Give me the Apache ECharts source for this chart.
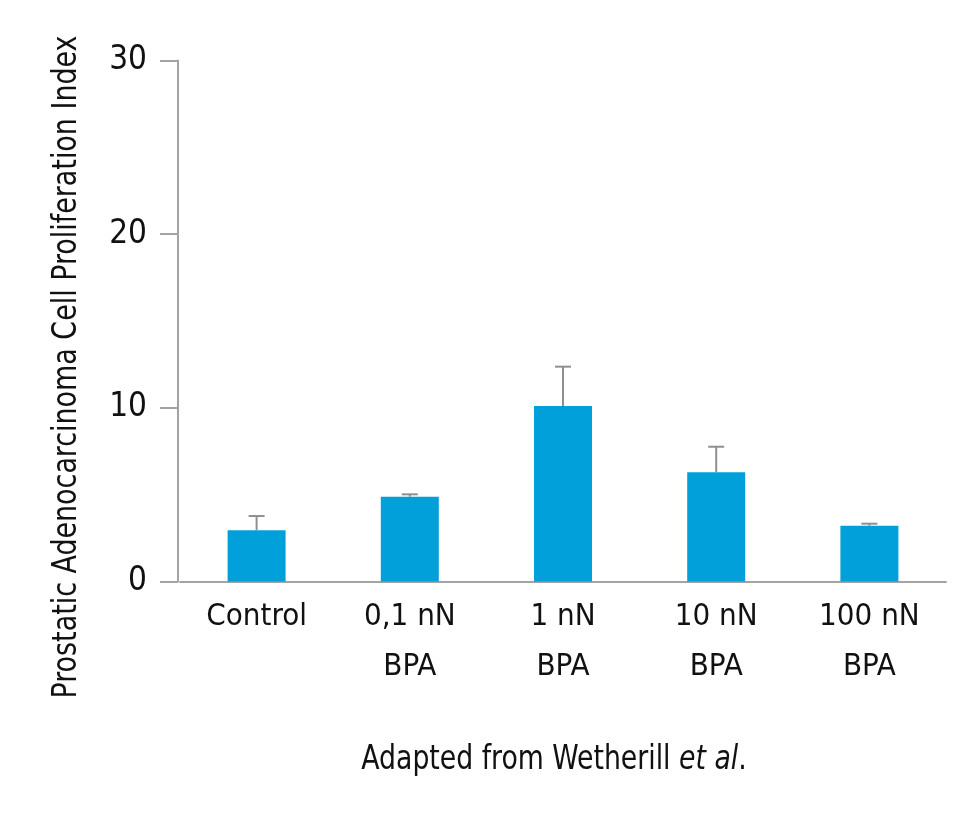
<!DOCTYPE html>
<html><head><meta charset="utf-8">
<script src="https://cdn.jsdelivr.net/npm/echarts@6/dist/echarts.min.js"></script>
<style>html,body{margin:0;padding:0;background:#fff}#c{width:980px;height:827px}</style>
</head><body><div id="c"></div>
<script>
const categories = ['Control', '0,1 nN\nBPA', '1 nN\nBPA', '10 nN\nBPA', '100 nN\nBPA'];
const means = [2.95, 4.88, 10.1, 6.29, 3.21];
const errorTops = [3.77, 5.02, 12.37, 7.76, 3.33];
const yTicks = [0, 10, 20, 30];
const yAxisTitle = 'Prostatic Adenocarcinoma Cell Proliferation Index';
const FONT = '"Liberation Sans Narrow", "DejaVu Sans Condensed", "Noto Sans", sans-serif';

const chart = echarts.init(document.getElementById('c'));
chart.setOption({
  backgroundColor: '#fff',
  animation: false,
  grid: { left: 180, top: 60.5, width: 766, height: 521 },
  xAxis: {
    type: 'category', data: categories,
    axisLine: { lineStyle: { color: '#a3a3a3', width: 2 } },
    axisTick: { show: false },
    axisLabel: { color: '#111', fontSize: 31, fontFamily: FONT, lineHeight: 50, margin: 10, interval: 0 }
  },
  yAxis: {
    type: 'value', min: yTicks[0], max: yTicks[yTicks.length - 1], interval: 10,
    offset: 2,
    splitLine: { show: false },
    axisLine: { show: true, lineStyle: { color: '#a3a3a3', width: 2 } },
    axisTick: { show: true, length: 18, lineStyle: { color: '#a3a3a3', width: 2 } },
    axisLabel: { color: '#111', fontSize: 33, fontFamily: FONT, margin: 31 }
  },
  series: [
    { type: 'bar', data: means, barWidth: 58, itemStyle: { color: '#01a0da' }, z: 2 },
    {
      type: 'custom', z: 1,
      data: means.map((m, i) => [i, m, errorTops[i]]),
      renderItem: function (params, api) {
        const i = api.value(0);
        const top = api.coord([i, api.value(2)]);
        const base = api.coord([i, api.value(1)]);
        return { type: 'group', children: [
          { type: 'line', shape: { x1: top[0], y1: base[1], x2: top[0], y2: top[1] }, style: { stroke: '#8f8f8f', lineWidth: 2 } },
          { type: 'line', shape: { x1: top[0] - 8, y1: top[1], x2: top[0] + 8, y2: top[1] }, style: { stroke: '#8f8f8f', lineWidth: 2 } }
        ]};
      }
    }
  ],
  graphic: [
    { type: 'text', x: 67, y: 367, rotation: Math.PI / 2, scaleX: 0.88, scaleY: 1,
      style: { text: yAxisTitle, fontSize: 34, fontFamily: FONT, fill: '#111', align: 'center', verticalAlign: 'middle' } },
    { type: 'text', x: 554, y: 760, scaleX: 0.9, scaleY: 1,
      style: { text: '{n|Adapted from Wetherill }{i|et al}{n|.}', align: 'center', verticalAlign: 'middle',
        rich: { n: { fontSize: 33, fontFamily: FONT, fill: '#111' }, i: { fontSize: 33, fontFamily: FONT, fontStyle: 'italic', fill: '#111' } } } }
  ]
});
</script></body></html>
